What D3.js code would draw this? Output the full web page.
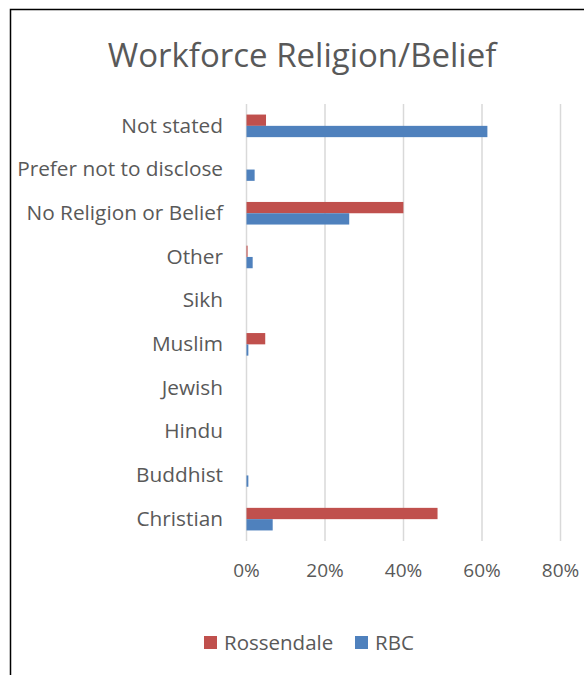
<!DOCTYPE html>
<html>
<head>
<meta charset="utf-8">
<script src="https://cdn.jsdelivr.net/npm/d3@7"></script>
<style>
  html, body { margin: 0; padding: 0; background: #fff; }
  svg { display: block; }
  text { font-family: "Open Sans", Lato, sans-serif; fill: #595959; }
</style>
</head>
<body>
<svg id="chart" width="584" height="675"></svg>
<script>
// Workforce religion / belief, percentage of staff
const categories = ["Not stated", "Prefer not to disclose", "No Religion or Belief", "Other",
                    "Sikh", "Muslim", "Jewish", "Hindu", "Buddhist", "Christian"];
const seriesNames = ["Rossendale", "RBC"];
const rossendale = [5.1, 0, 40.1, 0.4, 0, 4.9, 0, 0, 0, 48.8];
const rbc        = [61.5, 2.2, 26.3, 1.7, 0, 0.6, 0, 0, 0.6, 6.8];
const tickValues = [0, 20, 40, 60, 80];
const colors = ["#C0504D", "#4F81BD"];

const seriesValues = [rossendale, rbc];
const rows = categories.map((c, i) => ({
  category: c,
  values: seriesNames.map((s, k) => ({ series: s, value: seriesValues[k][i], k }))
}));

const svg = d3.select("#chart");

// outer chart frame
svg.append("rect")
  .attr("x", 10.5).attr("y", 9.5)
  .attr("width", 600).attr("height", 700)
  .attr("fill", "#fff").attr("stroke", "#000").attr("stroke-width", 1.5);

// title
svg.append("text")
  .attr("x", 302).attr("y", 67)
  .attr("text-anchor", "middle")
  .style("font-size", "33px")
  .text("Workforce Religion/Belief");

const plot = { left: 246, right: 560, top: 104, bottom: 541 };

const x = d3.scaleLinear().domain([0, 80]).range([plot.left, plot.right]);
const y = d3.scaleBand().domain(categories)
  .range([plot.top, plot.bottom])
  .paddingInner(0.483).paddingOuter(0.2415);
const ySub = d3.scaleBand().domain(seriesNames).range([0, y.bandwidth()]);

// vertical gridlines
svg.append("g")
  .attr("transform", `translate(0,${plot.bottom})`)
  .call(d3.axisBottom(x).tickValues(tickValues).tickSize(-(plot.bottom - plot.top)).tickFormat(""))
  .call(g => g.select(".domain").remove())
  .call(g => g.selectAll(".tick line").attr("stroke", "#D9D9D9").attr("stroke-width", 1.5));

// bars
svg.append("g").selectAll("g")
  .data(rows)
  .join("g")
  .attr("transform", d => `translate(0,${y(d.category)})`)
  .selectAll("rect")
  .data(d => d.values)
  .join("rect")
  .attr("x", x(0) + 0.5)
  .attr("y", d => ySub(d.series))
  .attr("width", d => Math.max(0, x(d.value) - x(0) - 0.5))
  .attr("height", ySub.bandwidth())
  .attr("fill", d => colors[d.k]);

// x axis labels
svg.append("g")
  .attr("transform", `translate(0,${plot.bottom})`)
  .call(d3.axisBottom(x).tickValues(tickValues).tickSize(0).tickPadding(23).tickFormat(d => d + "%"))
  .call(g => g.select(".domain").remove())
  .call(g => g.selectAll("text").style("font-size", "19px").style("font-family", "'Open Sans', sans-serif").attr("fill", "#595959"));

// category labels
svg.append("g")
  .attr("transform", `translate(${plot.left},0)`)
  .call(d3.axisLeft(y).tickSize(0).tickPadding(23))
  .call(g => g.select(".domain").remove())
  .call(g => g.selectAll("text").style("font-size", "20.8px").style("font-family", "'Open Sans', sans-serif").attr("fill", "#595959"));

// legend
const legend = svg.append("g").attr("transform", "translate(204,643)");
const legendX = [0, 151];
seriesNames.forEach((name, i) => {
  const item = legend.append("g").attr("transform", `translate(${legendX[i]},0)`);
  item.append("rect").attr("x", 0).attr("y", -7).attr("width", 13).attr("height", 13).attr("fill", colors[i]);
  item.append("text").attr("x", 20).attr("y", 0).attr("dy", "0.35em")
    .style("font-size", "20.5px").text(name);
});
</script>
</body>
</html>
